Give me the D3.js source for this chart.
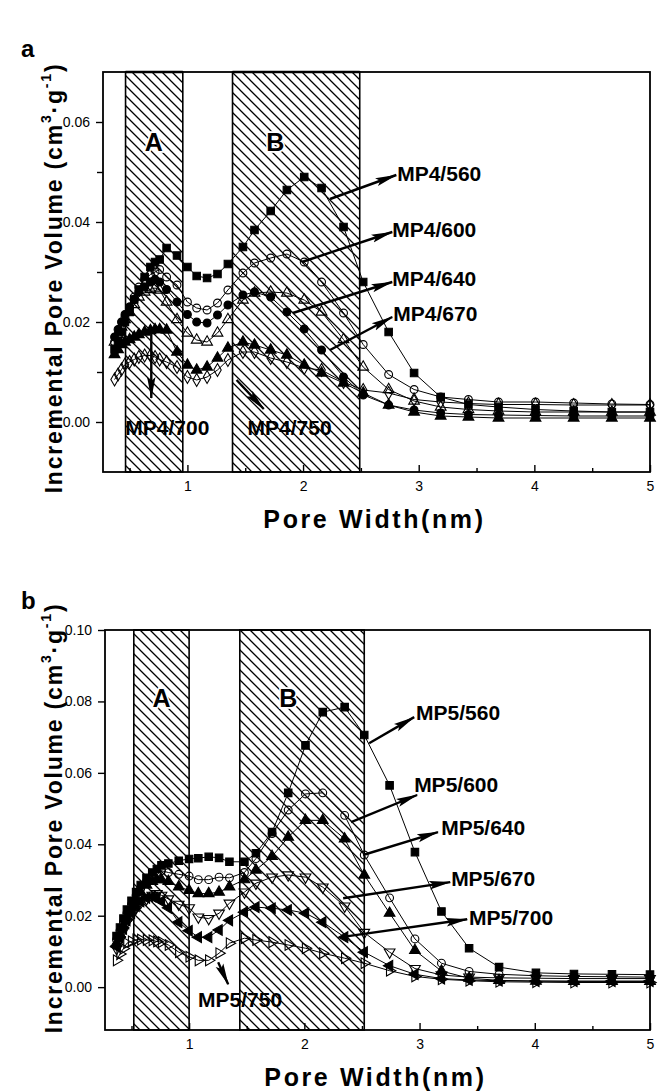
<!DOCTYPE html>
<html>
<head>
<meta charset="utf-8">
<script src="https://cdn.jsdelivr.net/npm/d3@7"></script>
<style>
  html, body { margin: 0; padding: 0; background: #fff; }
  svg { display: block; font-family: "Liberation Sans", Arial, sans-serif; }
</style>
</head>
<body>
<script>
// Pore widths (nm) shared by every distribution curve
const poreWidth = [0.37, 0.40, 0.43, 0.46, 0.50, 0.54, 0.58, 0.63, 0.68, 0.72, 0.76, 0.82, 0.91, 1.00,
  1.08, 1.17, 1.26, 1.35, 1.48, 1.58, 1.72, 1.86, 2.01, 2.16, 2.35, 2.52, 2.74, 2.96, 3.19, 3.43,
  3.69, 4.01, 4.34, 4.67, 5.00];

// Panel a: MP4 series (cm3/g)
const mp4_560 = [0.0145, 0.016, 0.018, 0.020, 0.022, 0.0245, 0.0265, 0.029, 0.031, 0.032, 0.0325, 0.0348, 0.0333, 0.031,
  0.0292, 0.0288, 0.0296, 0.0316, 0.035, 0.0384, 0.0422, 0.0464, 0.049, 0.0468, 0.039, 0.028, 0.018, 0.0098, 0.005, 0.0035,
  0.003, 0.0025, 0.0022, 0.002, 0.002];
const mp4_600 = [0.016, 0.0175, 0.019, 0.021, 0.023, 0.025, 0.027, 0.0285, 0.0295, 0.030, 0.0305, 0.029, 0.0274, 0.024,
  0.0228, 0.0224, 0.0238, 0.0264, 0.0298, 0.0318, 0.0328, 0.0336, 0.032, 0.028, 0.0218, 0.0155, 0.0095, 0.0065, 0.005, 0.0045,
  0.004, 0.004, 0.0038, 0.0036, 0.0035];
const mp4_640 = [0.017, 0.0185, 0.020, 0.0215, 0.023, 0.0245, 0.026, 0.027, 0.028, 0.0285, 0.028, 0.0265, 0.024, 0.0215,
  0.020, 0.0198, 0.0214, 0.0234, 0.0254, 0.026, 0.025, 0.022, 0.0186, 0.0144, 0.009, 0.0054, 0.0034, 0.0024, 0.0018, 0.0015,
  0.0014, 0.0013, 0.0012, 0.0012, 0.0012];
const mp4_670 = [0.016, 0.0175, 0.019, 0.0205, 0.022, 0.0235, 0.025, 0.026, 0.0265, 0.0268, 0.0264, 0.024, 0.0205, 0.0178,
  0.0164, 0.016, 0.0178, 0.0205, 0.0244, 0.0258, 0.026, 0.0258, 0.0244, 0.022, 0.0165, 0.011, 0.0065, 0.0042, 0.003, 0.0025,
  0.0022, 0.002, 0.002, 0.002, 0.002];
const mp4_700 = [0.0135, 0.0145, 0.0155, 0.016, 0.0165, 0.017, 0.0175, 0.018, 0.0183, 0.0185, 0.0185, 0.0184, 0.014, 0.0114,
  0.0104, 0.011, 0.0128, 0.0148, 0.016, 0.0154, 0.0144, 0.0134, 0.0114, 0.0098, 0.0078, 0.0058, 0.0034, 0.002, 0.0012, 0.001,
  0.0008, 0.0008, 0.0008, 0.0008, 0.0008];
const mp4_750 = [0.0085, 0.0095, 0.0105, 0.0115, 0.012, 0.0125, 0.013, 0.0133, 0.0133, 0.013, 0.0125, 0.012, 0.011, 0.009,
  0.0084, 0.009, 0.0104, 0.0124, 0.014, 0.014, 0.0128, 0.012, 0.0108, 0.0104, 0.008, 0.0064, 0.0058, 0.0045, 0.004, 0.0037,
  0.0035, 0.0035, 0.0034, 0.0034, 0.0034];

// Panel b: MP5 series (cm3/g)
const mp5_560 = [0.0143, 0.0167, 0.0192, 0.0217, 0.0242, 0.0266, 0.0286, 0.0306, 0.0321, 0.0331, 0.0341, 0.0346, 0.0354, 0.0359,
  0.0361, 0.0365, 0.0362, 0.0351, 0.0351, 0.0375, 0.0434, 0.0544, 0.0677, 0.0770, 0.0784, 0.0706, 0.0565, 0.0378, 0.0212, 0.0109,
  0.0056, 0.0040, 0.0037, 0.0036, 0.0035];
const mp5_600 = [0.0133, 0.0158, 0.0182, 0.0207, 0.0232, 0.0257, 0.0276, 0.0296, 0.0311, 0.0321, 0.0326, 0.0321, 0.0316, 0.0311,
  0.0301, 0.0301, 0.0308, 0.0306, 0.0321, 0.0360, 0.0430, 0.0496, 0.0541, 0.0544, 0.0481, 0.0370, 0.0250, 0.0135, 0.0067, 0.0044,
  0.0036, 0.0032, 0.0030, 0.0029, 0.0028];
const mp5_640 = [0.0123, 0.0148, 0.0172, 0.0197, 0.0222, 0.0247, 0.0266, 0.0286, 0.0296, 0.0301, 0.0301, 0.0296, 0.0281, 0.0271,
  0.0262, 0.0262, 0.0266, 0.0281, 0.0301, 0.0328, 0.0366, 0.0420, 0.0467, 0.0467, 0.0415, 0.0314, 0.0207, 0.0103, 0.0045, 0.0025,
  0.0019, 0.0017, 0.0016, 0.0016, 0.0016];
const mp5_670 = [0.0108, 0.0133, 0.0158, 0.0182, 0.0202, 0.0222, 0.0237, 0.0247, 0.0257, 0.0262, 0.0257, 0.0247, 0.0232, 0.0222,
  0.0196, 0.0192, 0.0207, 0.0235, 0.0266, 0.0291, 0.0308, 0.0314, 0.0308, 0.0280, 0.0227, 0.0153, 0.0098, 0.0052, 0.0034, 0.0028,
  0.0026, 0.0025, 0.0024, 0.0024, 0.0024];
const mp5_700 = [0.0113, 0.0138, 0.0163, 0.0187, 0.0207, 0.0227, 0.0240, 0.0250, 0.0254, 0.0250, 0.0240, 0.0222, 0.0182, 0.0158,
  0.0140, 0.0140, 0.0160, 0.0187, 0.0210, 0.0224, 0.0221, 0.0216, 0.0207, 0.0182, 0.0140, 0.0098, 0.0060, 0.0036, 0.0024, 0.0020,
  0.0018, 0.0017, 0.0017, 0.0017, 0.0017];
const mp5_750 = [0.0075, 0.0093, 0.0108, 0.0123, 0.0128, 0.0133, 0.0133, 0.0132, 0.0131, 0.0128, 0.0126, 0.0118, 0.0098, 0.0085,
  0.0075, 0.0075, 0.0095, 0.0123, 0.0137, 0.0132, 0.0126, 0.0118, 0.0109, 0.0095, 0.0081, 0.0067, 0.0046, 0.0030, 0.0022, 0.0018,
  0.0015, 0.0014, 0.0013, 0.0013, 0.0013];

const seriesNamesA = ["MP4/560", "MP4/600", "MP4/640", "MP4/670", "MP4/700", "MP4/750"];
const seriesNamesB = ["MP5/560", "MP5/600", "MP5/640", "MP5/670", "MP5/700", "MP5/750"];
const xTicks = [1, 2, 3, 4, 5];
const yTicksA = [0.00, 0.02, 0.04, 0.06];
const yTicksB = [0.00, 0.02, 0.04, 0.06, 0.08, 0.10];
const regionNames = ["A", "B"];
// Pore-width bands shaded as regions A and B
const regionsA = [[0.465, 0.96], [1.39, 2.49]];
const regionsB = [[0.52, 1.00], [1.44, 2.52]];

// ---- drawing ----
const W = 664, H = 1092;
const svg = d3.select("body").append("svg").attr("width", W).attr("height", H);
const defs = svg.append("defs");

// diagonal hatching for the A/B bands
const pat = defs.append("pattern").attr("id", "hatch")
  .attr("patternUnits", "userSpaceOnUse").attr("width", 10).attr("height", 10);
pat.append("path").attr("d", "M-1,-1 L11,11 M-1,9 L1,11 M9,-1 L11,1")
  .attr("stroke", "#000").attr("stroke-width", 1.3);

// arrowhead for the callouts
defs.append("marker").attr("id", "arrow")
  .attr("viewBox", "0 0 22 10").attr("refX", 21).attr("refY", 5)
  .attr("markerUnits", "userSpaceOnUse").attr("markerWidth", 22).attr("markerHeight", 10)
  .attr("orient", "auto")
  .append("path").attr("d", "M0,0.8 L22,5 L0,9.2 L4,5 Z").attr("fill", "#000");

const sym = {
  square: d3.symbol().type(d3.symbolSquare).size(56),
  circle: d3.symbol().type(d3.symbolCircle).size(48),
  triangle: d3.symbol().type(d3.symbolTriangle).size(50),
  diamond: d3.symbol().type(d3.symbolDiamond).size(48)
};

const panels = [
  {
    letter: "a", letterY: 57,
    left: 103, right: 650, top: 72, bottom: 472,
    yDomain: [-0.01, 0.07], yTicks: yTicksA, yMinor: [0.01, 0.03, 0.05],
    regions: regionsA, regionLabelX: [0.71, 1.76], regionLabelY: 0.056, topBorder: 2.5,
    titleCenter: 278,
    series: [
      { name: seriesNamesA[0], values: mp4_560, shape: "square", filled: true },
      { name: seriesNamesA[1], values: mp4_600, shape: "circle", filled: false },
      { name: seriesNamesA[2], values: mp4_640, shape: "circle", filled: true },
      { name: seriesNamesA[3], values: mp4_670, shape: "triangle", filled: false },
      { name: seriesNamesA[4], values: mp4_700, shape: "triangle", filled: true },
      { name: seriesNamesA[5], values: mp4_750, shape: "diamond", filled: false }
    ],
    // callouts in data units: arrow from -> to, label anchor
    notes: [
      { from: [2.233, 0.0446], to: [2.806, 0.0494], label: [2.814, 0.0498], anchor: "start" },
      { from: [1.99, 0.0320], to: [2.771, 0.0380], label: [2.771, 0.0386], anchor: "start" },
      { from: [1.911, 0.0218], to: [2.771, 0.0280], label: [2.771, 0.0288], anchor: "start" },
      { from: [2.233, 0.0144], to: [2.771, 0.0210], label: [2.78, 0.0218], anchor: "start" },
      { from: [0.6875, 0.0180], to: [0.6875, 0.0048], label: [0.826, -0.0010], anchor: "middle" },
      { from: [1.425, 0.0084], to: [1.66, 0.0026], label: [1.52, -0.0010], anchor: "start" }
    ]
  },
  {
    letter: "b", letterY: 609,
    left: 105, right: 650, top: 630, bottom: 1030,
    yDomain: [-0.012, 0.10], yTicks: yTicksB, yMinor: [],
    regions: regionsB, regionLabelX: [0.76, 1.86], regionLabelY: 0.081, topBorder: 1.5,
    titleCenter: 818,
    series: [
      { name: seriesNamesB[0], values: mp5_560, shape: "square", filled: true },
      { name: seriesNamesB[1], values: mp5_600, shape: "circle", filled: false },
      { name: seriesNamesB[2], values: mp5_640, shape: "triangle", filled: true },
      { name: seriesNamesB[3], values: mp5_670, shape: "triangle", filled: false, rotate: 180 },
      { name: seriesNamesB[4], values: mp5_700, shape: "triangle", filled: true, rotate: -90 },
      { name: seriesNamesB[5], values: mp5_750, shape: "triangle", filled: false, rotate: 90 }
    ],
    notes: [
      { from: [2.5625, 0.0683], to: [2.953, 0.0756], label: [2.97, 0.0770], anchor: "start" },
      { from: [2.406, 0.0462], to: [2.979, 0.0538], label: [2.953, 0.0568], anchor: "start" },
      { from: [2.51, 0.0370], to: [3.16, 0.0434], label: [3.1875, 0.0448], anchor: "start" },
      { from: [2.337, 0.0249], to: [3.266, 0.0294], label: [3.274, 0.0305], anchor: "start" },
      { from: [2.319, 0.0140], to: [3.413, 0.0190], label: [3.43, 0.0196], anchor: "start" },
      { from: [1.252, 0.0070], to: [1.339, 0.0008], label: [1.078, -0.0034], anchor: "start" }
    ]
  }
];

panels.forEach(p => {
  const g = svg.append("g");
  const x = d3.scaleLinear().domain([0.27, 5]).range([p.left, p.right]);
  const y = d3.scaleLinear().domain(p.yDomain).range([p.bottom, p.top]);

  // panel letter
  g.append("text").attr("x", 21).attr("y", p.letterY)
    .attr("font-size", 24).attr("font-weight", "bold").text(p.letter);

  // hatched bands
  p.regions.forEach((r, i) => {
    g.append("rect")
      .attr("x", x(r[0])).attr("y", p.top)
      .attr("width", x(r[1]) - x(r[0])).attr("height", p.bottom - p.top)
      .attr("fill", "url(#hatch)").attr("stroke", "#000").attr("stroke-width", 1.6);
    g.append("line").attr("x1", x(r[0])).attr("x2", x(r[1]))
      .attr("y1", p.top).attr("y2", p.top)
      .attr("stroke", "#000").attr("stroke-width", p.topBorder);
    g.append("text")
      .attr("x", x(p.regionLabelX[i]))
      .attr("y", y(p.regionLabelY))
      .attr("text-anchor", "middle").attr("dominant-baseline", "central")
      .attr("font-size", 25).attr("font-weight", "bold")
      .attr("fill", "#000").attr("stroke", "#fff").attr("stroke-width", 3.5)
      .attr("paint-order", "stroke")
      .text(regionNames[i]);
  });

  // curves
  const line = d3.line().x(d => x(d[0])).y(d => y(d[1]));
  p.series.forEach(s => {
    const pts = poreWidth.map((w, i) => [w, s.values[i]]);
    g.append("path").datum(pts).attr("d", line)
      .attr("fill", "none").attr("stroke", "#000").attr("stroke-width", 1);
    g.selectAll(null).data(pts).enter().append("path")
      .attr("d", sym[s.shape])
      .attr("transform", d => `translate(${x(d[0])},${y(d[1])}) rotate(${s.rotate || 0})`)
      .attr("fill", s.filled ? "#000" : "none")
      .attr("stroke", "#000").attr("stroke-width", 1.1);
  });

  // frame
  g.append("rect").attr("x", p.left).attr("y", p.top)
    .attr("width", p.right - p.left).attr("height", p.bottom - p.top)
    .attr("fill", "none").attr("stroke", "#000").attr("stroke-width", 1.8);

  // x axis: ticks point inward
  const xAxis = d3.axisBottom(x).tickValues(xTicks).tickSize(-7).tickPadding(9)
    .tickFormat(d3.format("d"));
  const xa = g.append("g").attr("transform", `translate(0,${p.bottom})`).call(xAxis);
  xa.select(".domain").remove();
  xa.selectAll("line").attr("stroke-width", 1.4);
  xa.selectAll("text").attr("font-size", 14).attr("font-family", "Liberation Sans, Arial, sans-serif");
  const xMinor = d3.axisBottom(x).tickValues([0.5, 1.5, 2.5, 3.5, 4.5]).tickSize(-4).tickFormat("");
  const xm = g.append("g").attr("transform", `translate(0,${p.bottom})`).call(xMinor);
  xm.select(".domain").remove();
  xm.selectAll("line").attr("stroke-width", 1.4);

  // y axis: ticks point outward
  const yAxis = d3.axisLeft(y).tickValues(p.yTicks).tickSize(7).tickPadding(6)
    .tickFormat(d3.format(".2f"));
  const ya = g.append("g").attr("transform", `translate(${p.left},0)`).call(yAxis);
  ya.select(".domain").remove();
  ya.selectAll("line").attr("stroke-width", 1.4);
  ya.selectAll("text").attr("font-size", 14).attr("font-family", "Liberation Sans, Arial, sans-serif");
  if (p.yMinor.length) {
    const ym = g.append("g").attr("transform", `translate(${p.left},0)`)
      .call(d3.axisLeft(y).tickValues(p.yMinor).tickSize(6).tickFormat(""));
    ym.select(".domain").remove();
    ym.selectAll("line").attr("stroke-width", 1.4);
  }

  // axis titles
  g.append("text").attr("x", (p.left + p.right) / 2 - 2).attr("y", p.bottom + 56)
    .attr("text-anchor", "middle").attr("font-size", 25).attr("font-weight", "bold")
    .attr("letter-spacing", 2.6)
    .text("Pore Width(nm)");

  const yt = g.append("text")
    .attr("transform", `translate(${62},${p.titleCenter}) rotate(-90)`)
    .attr("text-anchor", "middle").attr("font-size", 23).attr("font-weight", "bold")
    .attr("letter-spacing", 1.8);
  yt.append("tspan").text("Incremental Pore Volume (cm");
  yt.append("tspan").attr("dy", -11).attr("font-size", 14).text("3");
  yt.append("tspan").attr("dy", 11).text("·g");
  yt.append("tspan").attr("dy", -11).attr("font-size", 14).text("-1");
  yt.append("tspan").attr("dy", 11).text(")");

  // callouts
  p.notes.forEach((n, i) => {
    g.append("line")
      .attr("x1", x(n.from[0])).attr("y1", y(n.from[1]))
      .attr("x2", x(n.to[0])).attr("y2", y(n.to[1]))
      .attr("stroke", "#000").attr("stroke-width", 2.4)
      .attr("marker-end", "url(#arrow)");
    g.append("text").attr("x", x(n.label[0])).attr("y", y(n.label[1]))
      .attr("text-anchor", n.anchor).attr("dominant-baseline", "central")
      .attr("font-size", 21).attr("font-weight", "bold")
      .text(p.series[i].name);
  });
});
</script>
</body>
</html>
